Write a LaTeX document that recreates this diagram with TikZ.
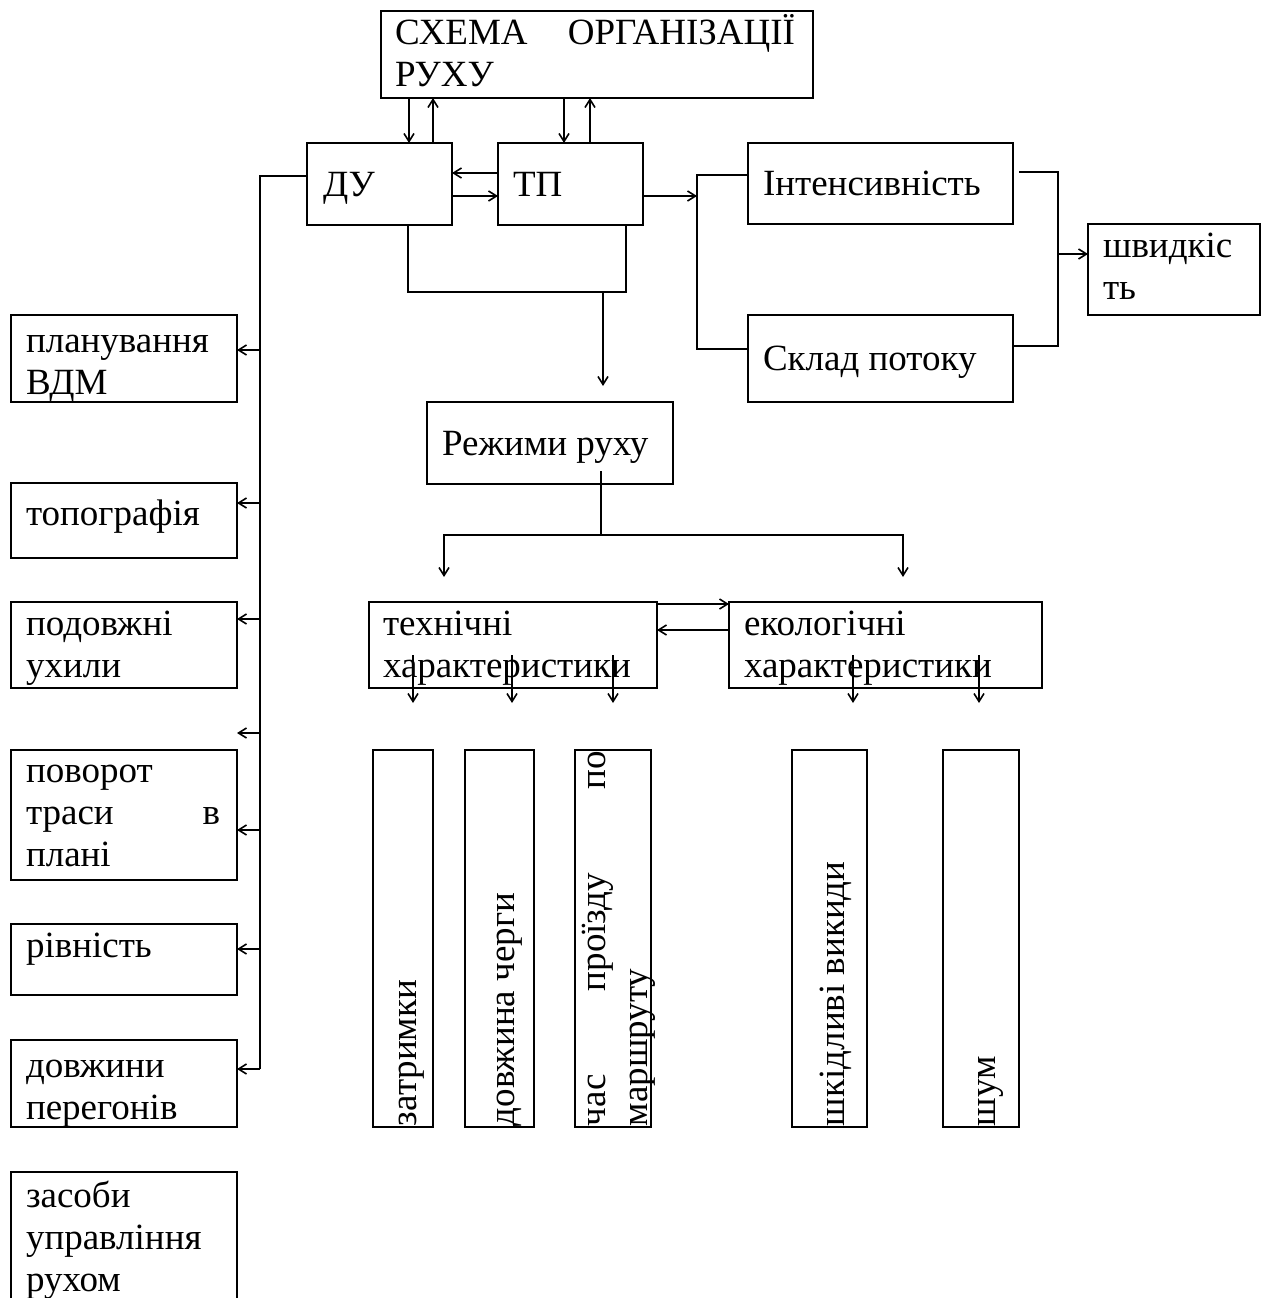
\documentclass[tikz,border=0pt]{standalone}
\usepackage{fontspec}
\setmainfont{Liberation Serif}
\usetikzlibrary{arrows.meta,calc}
% framed block: name, left, top, width, height
\newcommand\panel[5]{\node[box,minimum width=#4pt,minimum height=#5pt] (#1) at (#2,#3) {};}
\begin{document}
\begin{tikzpicture}[x=1pt,y=-1pt,
  box/.style={draw,line width=2.2pt,rectangle,inner sep=0pt,outer sep=0pt,anchor=north west},
  txt/.style={inner sep=0pt,outer sep=0pt,anchor=base west,font=\fontsize{37}{42}\selectfont},
  wire/.style={line width=2pt},
  arr/.style={line width=2pt,-{Straight Barb[length=8pt,width=10pt,line width=1.6pt]}}]

\useasboundingbox (0,0) rectangle (1270,1298);
\fill[white] (0,0) rectangle (1270,1298);
\clip (0,0) rectangle (1270,1298);

% ---------- blocks ----------
\panel{schema}{381}{11}{432}{87}
\panel{du}{307}{143}{145}{82}
\panel{tp}{498}{143}{145}{82}
\panel{intens}{748}{143}{265}{81}
\panel{sklad}{748}{315}{265}{87}
\panel{speed}{1088}{224}{172}{91}
\panel{modes}{427}{402}{246}{82}
\panel{tech}{369}{602}{288}{86}
\panel{eco}{729}{602}{313}{86}
\panel{delay}{373}{750}{60}{377}
\panel{queue}{465}{750}{69}{377}
\panel{trip}{575}{750}{76}{377}
\panel{emis}{792}{750}{75}{377}
\panel{noise}{943}{750}{76}{377}
\panel{plan}{11}{315}{226}{87}
\panel{topo}{11}{483}{226}{75}
\panel{grade}{11}{602}{226}{86}
\panel{curve}{11}{750}{226}{130}
\panel{even}{11}{924}{226}{71}
\panel{span}{11}{1040}{226}{87}
\panel{ctrl}{11}{1172}{226}{150}

% ---------- labels ----------
\node[txt] (schema-t) at (395,45) {\vtop{\hbox to 400pt{СХЕМА\hfill ОРГАНІЗАЦІЇ}\hbox{РУХУ}}};
\node[txt] (du-t) at (323,196) {ДУ};
\node[txt] (tp-t) at (513,196) {ТП};
\node[txt] (intens-t) at (763,195) {Інтенсивність};
\node[txt] (sklad-t) at (763,370) {Склад потоку};
\node[txt] (speed-t) at (1103,257) {\vtop{\hbox{швидкіс}\hbox{ть}}};
\node[txt] (modes-t) at (442,455) {Режими руху};
\node[txt] (tech-t) at (383,635) {\vtop{\hbox{технічні}\hbox{характеристики}}};
\node[txt] (eco-t) at (744,635) {\vtop{\hbox{екологічні}\hbox{характеристики}}};
\node[txt] (plan-t) at (26,352) {\vtop{\hbox{планування}\hbox{ВДМ}}};
\node[txt] (topo-t) at (26,525) {топографія};
\node[txt] (grade-t) at (26,635) {\vtop{\hbox{подовжні}\hbox{ухили}}};
\node[txt] (curve-t) at (26,782) {\vtop{\hbox{поворот}\hbox to 194pt{траси\hfill в}\hbox{плані}}};
\node[txt] (even-t) at (26,957) {рівність};
\node[txt] (span-t) at (26,1077) {\vtop{\hbox{довжини}\hbox{перегонів}}};
\node[txt] (ctrl-t) at (26,1207) {\vtop{\hbox{засоби}\hbox{управління}\hbox{рухом}}};

\node[txt,rotate=90] (delay-t) at (416,1126) {затримки};
\node[txt,rotate=90] (queue-t) at (514,1126) {довжина черги};
\node[txt,rotate=90] (trip-t) at (605,1126) {\vtop{\hbox to 375pt{час\hfill проїзду\hfill по}\hbox{маршруту}}};
\node[txt,rotate=90] (emis-t) at (844,1126) {шкідливі викиди};
\node[txt,rotate=90] (noise-t) at (995,1126) {шум};

% ---------- connectors ----------
% scheme <-> ДУ, ТП
\coordinate (a1) at (409,0); \coordinate (a2) at (433,0);
\coordinate (a3) at (564,0); \coordinate (a4) at (590,0);
\draw[arr] (schema.south -| a1) -- (du.north -| a1);
\draw[arr] (du.north -| a2) -- (schema.south -| a2);
\draw[arr] (schema.south -| a3) -- (tp.north -| a3);
\draw[arr] (tp.north -| a4) -- (schema.south -| a4);

% ДУ <-> ТП
\coordinate (h1) at (0,173); \coordinate (h2) at (0,196);
\draw[arr] (tp.west |- h1) -- (du.east |- h1);
\draw[arr] (du.east |- h2) -- (tp.west |- h2);

% ТП -> flow characteristics
\coordinate (fork) at (697,175); \coordinate (low) at (697,349);
\draw[arr] (tp.east |- h2) -- (fork |- h2);
\draw[wire] (intens.west |- fork) -- (fork) -- (low) -- (sklad.west |- low);

% flow characteristics -> speed
\coordinate (join) at (1058,172); \coordinate (joinb) at (1058,346);
\coordinate (h3) at (0,254);
\draw[wire] ($(intens.east |- join)+(6,0)$) -- (join) -- (joinb) -- (sklad.east |- joinb);
\draw[arr] (join |- h3) -- (speed.west |- h3);

% ДУ, ТП -> traffic modes
\coordinate (m) at (0,292);
\coordinate (b1) at (408,0); \coordinate (b2) at (626,0); \coordinate (b3) at (603,0);
\draw[wire] (du.south -| b1) -- (b1 |- m) -- (b2 |- m) -- (tp.south -| b2);
\draw[arr,shorten >=16pt] (b3 |- m) -- (modes.north -| b3);

% traffic modes -> technical / ecological
\coordinate (c1) at (601,0); \coordinate (n) at (0,535);
\coordinate (c2) at (444,0); \coordinate (c3) at (903,0);
\draw[wire] ($(modes.south -| c1)+(0,-13)$) -- (c1 |- n);
\draw[arr,shorten >=25pt] (c1 |- n) -- (c2 |- n) -- (tech.north -| c2);
\draw[arr,shorten >=25pt] (c1 |- n) -- (c3 |- n) -- (eco.north -| c3);

% technical <-> ecological
\coordinate (h4) at (0,604); \coordinate (h5) at (0,630);
\draw[arr] (tech.east |- h4) -- (eco.west |- h4);
\draw[arr] (eco.west |- h5) -- (tech.east |- h5);

% characteristics -> indicators
\foreach \x/\src/\dst in {413/tech/delay,512/tech/queue,613/tech/trip,853/eco/emis,979/eco/noise}{
  \coordinate (t) at (\x,0);
  \draw[arr,shorten >=47pt] ($(\src.south -| t)+(0,-33)$) -- (\dst.north -| t);
}

% ДУ -> road conditions
\coordinate (tr) at (260,176); \coordinate (trb) at (260,1069);
\draw[wire] (du.west |- tr) -- (tr) -- (trb);
\draw[arr] (trb) -- (span.east |- trb);
\foreach \y/\dst in {350/plan,503/topo,619/grade,733/curve,830/curve,949/even}{
  \coordinate (k) at (260,\y);
  \draw[arr] (k) -- (\dst.east |- k);
}
\end{tikzpicture}
\end{document}
